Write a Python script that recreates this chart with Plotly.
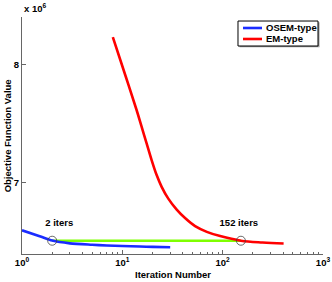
import plotly.graph_objects as go

# Data (objective values in units of 1e6)
osem_iters = [1, 1.5, 2, 3, 5, 7, 10, 15, 20, 30]
osem_values = [6.60, 6.55, 6.513, 6.49, 6.478, 6.472, 6.468, 6.463, 6.460, 6.457]

em_iters = [8.04, 10.77, 13.87, 15.56, 17.46, 19.59, 21.98, 24.66, 28.71, 34.83,
            42.17, 53.09, 69.5, 94.4, 152, 250, 405]
em_values = [8.23, 7.902, 7.615, 7.474, 7.334, 7.193, 7.066, 6.967, 6.867, 6.774,
             6.703, 6.635, 6.587, 6.551, 6.512, 6.497, 6.489]

match_iters = [2, 152]
match_values = [6.512, 6.512]
match_labels = ["2 iters", "152 iters"]
label_iters = [2.35, 145]
label_values = [6.66, 6.66]

legend_names = ["OSEM-type", "EM-type"]
legend_colors = ["#1a2cff", "#ff0000"]

xtick_vals = [1, 10, 100, 1000]
xtick_text = ["10<sup>0</sup>", "10<sup>1</sup>", "10<sup>2</sup>", "10<sup>3</sup>"]
ytick_vals = [7, 8]
ytick_text = ["7", "8"]
minor_vals = [m * d for d in (1, 10, 100) for m in range(2, 10)]

FONT = dict(family="Liberation Sans, Arial, sans-serif", size=9.5, color="black", weight="bold")
AXCOL = "#666666"

fig = go.Figure()
fig.add_trace(go.Scatter(x=match_iters, y=match_values, mode="lines",
                         line=dict(color="#7fff00", width=2.6), showlegend=False))
fig.add_trace(go.Scatter(x=osem_iters, y=osem_values, mode="lines", name=legend_names[0],
                         line=dict(color=legend_colors[0], width=2.6, shape="spline", smoothing=0.8),
                         showlegend=False))
fig.add_trace(go.Scatter(x=em_iters, y=em_values, mode="lines", name=legend_names[1],
                         line=dict(color=legend_colors[1], width=2.6, shape="spline", smoothing=1.0),
                         showlegend=False))
fig.add_trace(go.Scatter(x=match_iters, y=match_values, mode="markers", showlegend=False,
                         marker=dict(symbol="circle-open", size=9, color="#444444",
                                     line=dict(width=0.8))))
fig.add_trace(go.Scatter(x=label_iters, y=label_values, mode="text", text=match_labels,
                         textfont=FONT, showlegend=False))

# Manual legend box (paper coordinates)
shapes = [
    dict(type="rect", xref="paper", yref="paper", x0=0.7226, x1=0.9884, y0=0.8726, y1=0.978,
         line=dict(width=0), fillcolor="#999999", layer="above"),
    dict(type="rect", xref="paper", yref="paper", x0=0.7176, x1=0.9834, y0=0.8776, y1=0.983,
         line=dict(width=1, color="black"), fillcolor="white", layer="above"),
]
annotations = [
    dict(text="Iteration Number", xref="paper", yref="paper", x=0.5, y=-0.085,
         showarrow=False, font=FONT, xanchor="center", yanchor="middle"),
    dict(text="Objective Function Value", xref="paper", yref="paper", x=-0.047, y=0.5,
         showarrow=False, font=FONT, textangle=-90, xanchor="center", yanchor="middle"),
    dict(text="x 10<sup>6</sup>", xref="paper", yref="paper", x=0.0, y=1.005,
         showarrow=False, font=FONT, xanchor="left", yanchor="bottom"),
]
for i, (name, col) in enumerate(zip(legend_names, legend_colors)):
    yy = 0.9536 - i * 0.0464
    shapes.append(dict(type="line", xref="paper", yref="paper", x0=0.7342, x1=0.7973,
                       y0=yy, y1=yy, line=dict(color=col, width=2.6), layer="above"))
    annotations.append(dict(text=name, xref="paper", yref="paper", x=0.803, y=yy,
                            showarrow=False, font=FONT, xanchor="left", yanchor="middle"))

fig.update_layout(
    template="none",
    width=332, height=282,
    margin=dict(l=22, r=9, t=17, b=28),
    paper_bgcolor="white", plot_bgcolor="white",
    font=FONT,
    showlegend=False,
    xaxis=dict(type="log", range=[0, 3], showgrid=False, zeroline=False, automargin=False,
               showline=True, linecolor=AXCOL, linewidth=1,
               ticks="inside", ticklen=4, tickcolor=AXCOL,
               tickvals=xtick_vals, ticktext=xtick_text,
               minor=dict(tickvals=minor_vals, ticks="inside", ticklen=2, tickcolor=AXCOL,
                          showgrid=False),
               tickfont=FONT),
    yaxis=dict(range=[6.4, 8.4], showgrid=False, zeroline=False, automargin=False,
               showline=True, linecolor=AXCOL, linewidth=1,
               ticks="inside", ticklen=4, tickcolor=AXCOL,
               tickvals=ytick_vals, ticktext=ytick_text, tickfont=FONT),
    shapes=shapes,
    annotations=annotations,
)

fig.write_html("out.html", config={"displayModeBar": False},
               post_script="document.body.style.margin='0';document.body.style.overflow='hidden';")
